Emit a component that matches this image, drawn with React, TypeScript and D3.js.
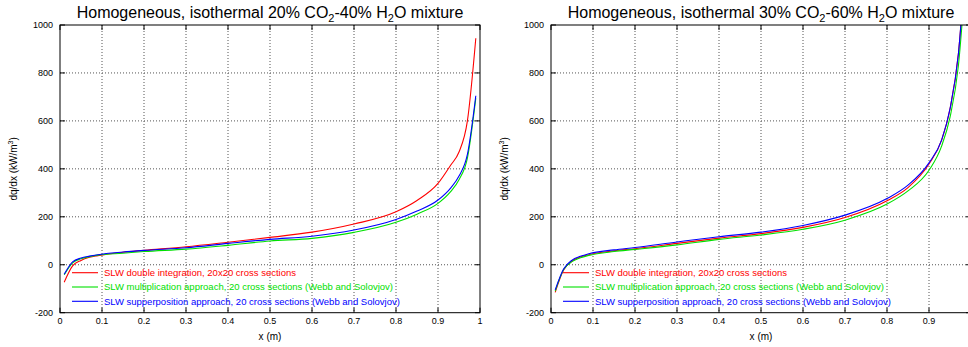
import React from 'react';
import * as d3 from 'd3';

// sample positions (m)
const xPoints = [0.01, 0.03, 0.05, 0.07, 0.09, 0.15, 0.2, 0.3, 0.4, 0.5, 0.6, 0.7, 0.8, 0.85, 0.9, 0.93, 0.95, 0.97, 0.99];

// 20% CO2 - 40% H2O
const leftRed = [-73, -5, 18, 31, 38, 52, 60, 75, 94, 114, 136, 170, 221, 268, 339, 415, 470, 600, 945];
const leftGreen = [-42, 8, 25, 34, 40, 48, 55, 65, 81, 99, 110, 135, 177, 211, 256, 305, 355, 445, 695];
const leftBlue = [-40, 12, 28, 36, 42, 53, 60, 71, 89, 106, 119, 145, 189, 224, 270, 320, 370, 460, 705];

// 30% CO2 - 60% H2O
const rightRed = [-115, -22, 15, 32, 42, 58, 67, 89, 111, 130, 156, 197, 267, 322, 420, 520, 650, 880, 1350];
const rightGreen = [-110, -20, 13, 29, 39, 55, 64, 83, 106, 124, 148, 186, 253, 308, 394, 495, 615, 830, 1280];
const rightBlue = [-105, -18, 19, 35, 46, 62, 72, 95, 117, 136, 164, 207, 276, 332, 425, 520, 650, 880, 1350];

const xTicks = [0, 0.1, 0.2, 0.3, 0.4, 0.5, 0.6, 0.7, 0.8, 0.9, 1];
const yTicks = [-200, 0, 200, 400, 600, 800, 1000];
const legendLabels = [
  'SLW double integration, 20x20 cross sections',
  'SLW multiplication approach, 20 cross sections (Webb and Solovjov)',
  'SLW supperposition approach, 20 cross sections (Webb and Solovjov)',
];
const colors = ['#ff0000', '#00e000', '#0000ff'];

const top = 25;
const bottom = 312.7;
const plotW = 420;

type PanelProps = {
  id: string;
  left: number;
  co2: string;
  h2o: string;
  series: number[][];
};

const Panel = ({ id, left, co2, h2o, series }: PanelProps) => {
  const x = d3.scaleLinear().domain([0, 1]).range([left, left + plotW]);
  const y = d3.scaleLinear().domain([-200, 1000]).range([bottom, top]);
  const line = d3.line<[number, number]>()
    .x(d => x(d[0]))
    .y(d => y(d[1]))
    .curve(d3.curveMonotoneX);
  const font = 'Liberation Sans, Arial, sans-serif';
  const cx = (x(0) + x(1)) / 2;

  return (
    <g fontFamily={font}>
      <clipPath id={id}>
        <rect x={x(0)} y={top} width={plotW} height={bottom - top} />
      </clipPath>
      {/* title */}
      <text x={cx} y={18} textAnchor="middle" fontSize={16} fill="#000">
        {`Homogeneous, isothermal ${co2}% CO`}
        <tspan fontSize={11} dy={4}>2</tspan>
        <tspan dy={-4}>{`-${h2o}% H`}</tspan>
        <tspan fontSize={11} dy={4}>2</tspan>
        <tspan dy={-4}>O mixture</tspan>
      </text>
      {/* grid */}
      {xTicks.slice(1, -1).map(t => (
        <line key={'gx' + t} x1={x(t)} x2={x(t)} y1={top} y2={bottom}
          stroke="#555" strokeWidth={1} strokeDasharray="1,2" />
      ))}
      {yTicks.slice(1, -1).map(t => (
        <line key={'gy' + t} x1={x(0)} x2={x(1)} y1={y(t)} y2={y(t)}
          stroke="#555" strokeWidth={1} strokeDasharray="1,2" />
      ))}
      {/* ticks, mirrored */}
      {xTicks.map(t => (
        <g key={'tx' + t}>
          <line x1={x(t)} x2={x(t)} y1={bottom} y2={bottom - 5} stroke="#000" />
          <line x1={x(t)} x2={x(t)} y1={top} y2={top + 5} stroke="#000" />
          {x(t) < 962 && (
            <text x={x(t)} y={324} textAnchor="middle" fontSize={9} fill="#000">{t}</text>
          )}
        </g>
      ))}
      {yTicks.map(t => (
        <g key={'ty' + t}>
          <line x1={x(0)} x2={x(0) + 5} y1={y(t)} y2={y(t)} stroke="#000" />
          <line x1={x(1)} x2={x(1) - 5} y1={y(t)} y2={y(t)} stroke="#000" />
          <text x={x(0) - 7} y={y(t) + 3} textAnchor="end" fontSize={9} fill="#000">{t}</text>
        </g>
      ))}
      {/* curves */}
      <g clipPath={`url(#${id})`}>
        {series.map((s, i) => (
          <path key={'s' + i}
            d={line(xPoints.map((xv, j) => [xv, s[j]] as [number, number])) || ''}
            fill="none" stroke={colors[i]} strokeWidth={1.1} />
        ))}
      </g>
      {/* legend */}
      {legendLabels.map((lab, i) => {
        const ly = 272.7 + i * 14.3;
        return (
          <g key={'lg' + i}>
            <line x1={x(0) + 12} x2={x(0) + 38} y1={ly} y2={ly} stroke={colors[i]} strokeWidth={1.1} />
            <text x={x(0) + 44} y={ly + 3.3} fontSize={9.5} fill={colors[i]}>{lab}</text>
          </g>
        );
      })}
      {/* frame */}
      <rect x={x(0)} y={top} width={plotW} height={bottom - top} fill="none" stroke="#000" strokeWidth={1} />
      {/* axis labels */}
      <text x={cx} y={340} textAnchor="middle" fontSize={10} fill="#000">x (m)</text>
      <text transform={`translate(${x(0) - 43},${(top + bottom) / 2}) rotate(-90)`}
        textAnchor="middle" fontSize={10} fill="#000">
        dq/dx (kW/m<tspan fontSize={7} dy={-4}>3</tspan><tspan dy={4}>)</tspan>
      </text>
    </g>
  );
};

const App = () => (
  <svg width={968} height={347} style={{ position: 'absolute', left: 0, top: 0, background: '#fff' }}>
    <Panel id="clipL" left={60} co2="20" h2o="40" series={[leftRed, leftGreen, leftBlue]} />
    <Panel id="clipR" left={551} co2="30" h2o="60" series={[rightRed, rightGreen, rightBlue]} />
  </svg>
);

export default App;
